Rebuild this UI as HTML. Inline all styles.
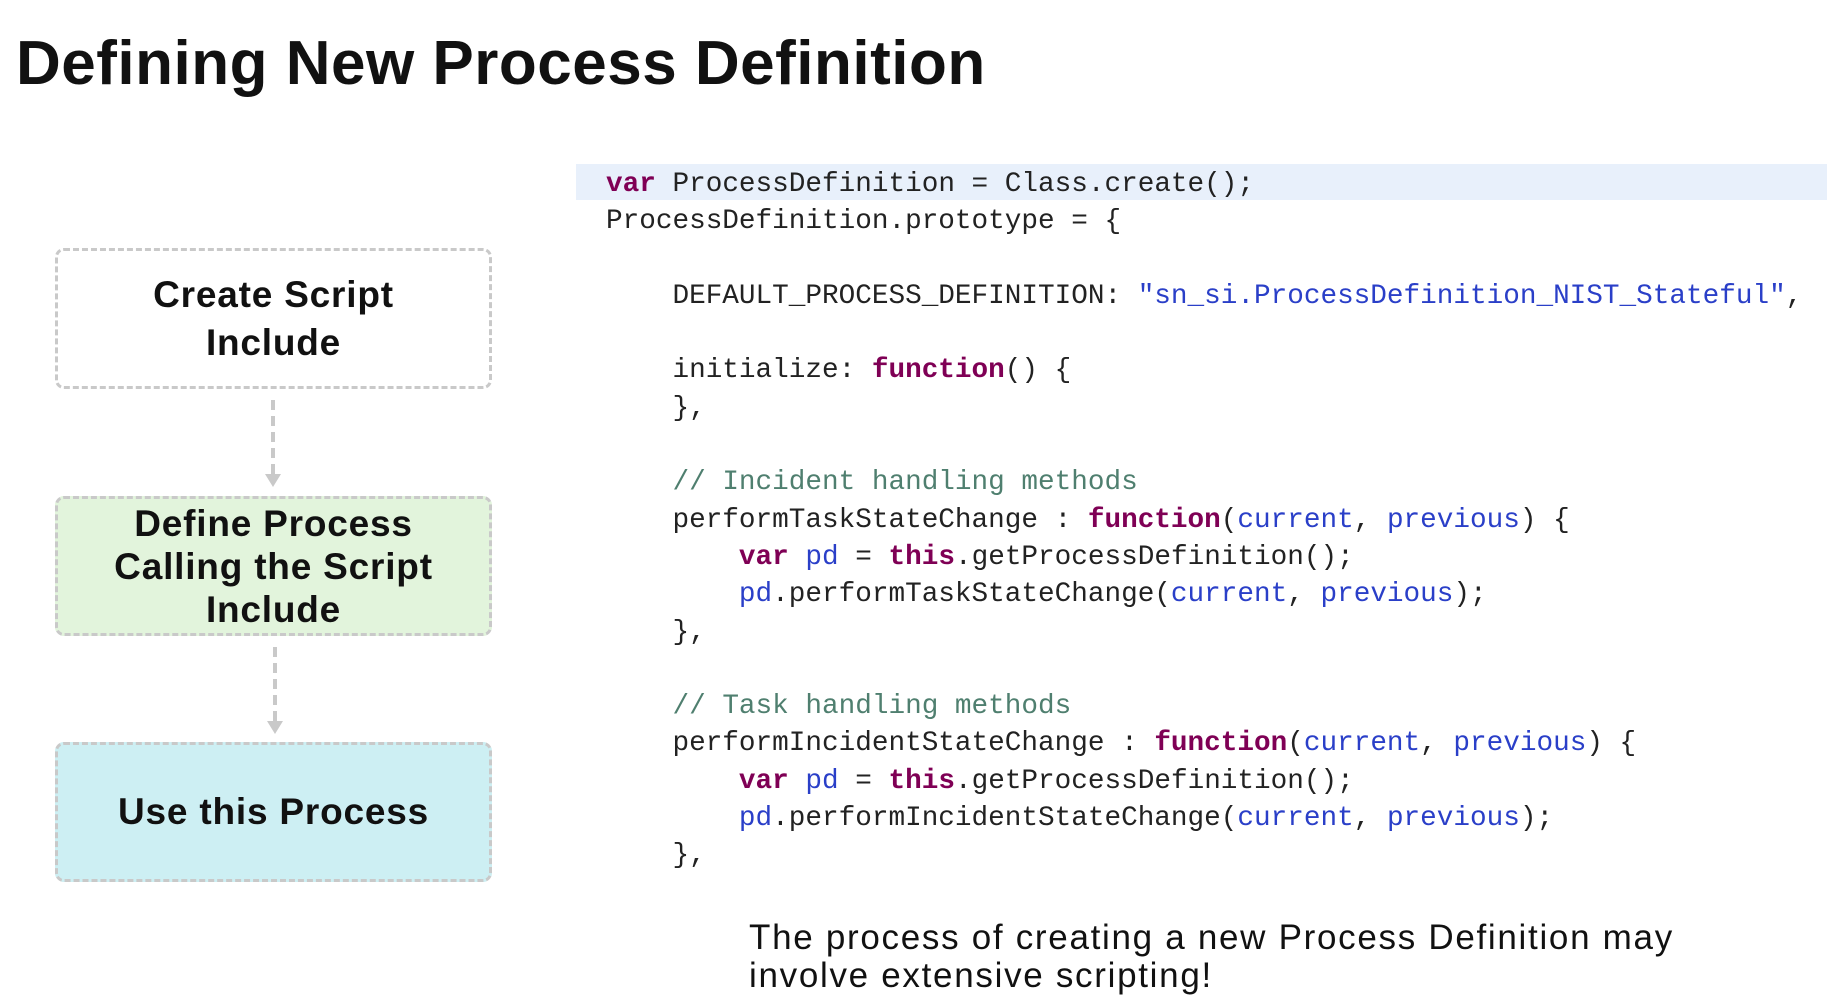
<!DOCTYPE html>
<html><head><meta charset="utf-8"><style>
body{margin:0;width:1827px;height:1008px;background:#fff;position:relative;overflow:hidden;font-family:"Liberation Sans",sans-serif}
.t{position:absolute;left:16px;top:28px;font-size:62px;font-weight:bold;color:#111;letter-spacing:0.5px}
.box{position:absolute;left:55px;width:437px;border:3.5px dashed #c9c9c9;border-radius:9px;display:flex;align-items:center;justify-content:center;text-align:center;font-weight:bold;font-size:37px;letter-spacing:0.8px;color:#111;box-sizing:border-box}
.code{position:absolute;left:0;top:166px;font-family:"Liberation Mono",monospace;font-size:27.7px;line-height:37.3px;color:#222;white-space:pre}
.k{color:#7f0055;font-weight:bold}.b{color:#2a3fc8}.c{color:#4f7f6f}
.hl{position:absolute;left:576px;top:164px;width:1251px;height:36px;background:#e8f0fb}
.bt{position:absolute;left:749px;top:919px;font-size:35px;letter-spacing:1.7px;line-height:38px;color:#111}
</style></head><body>
<div class="t">Defining New Process Definition</div>
<div class="box" style="top:248px;height:141px;line-height:48px">Create Script<br>Include</div>
<div class="box" style="top:496px;height:140px;line-height:43px;background:#e2f4dc">Define Process<br>Calling the Script<br>Include</div>
<div class="box" style="top:742px;height:140px;background:#cdeff3">Use this Process</div>
<svg style="position:absolute;left:0;top:0" width="600" height="1008">
<line x1="273" y1="400" x2="273" y2="474" stroke="#c9c9c9" stroke-width="4" stroke-dasharray="10,6"/>
<polygon points="265,474 281,474 273,487" fill="#c9c9c9"/>
<line x1="275" y1="647" x2="275" y2="721" stroke="#c9c9c9" stroke-width="4" stroke-dasharray="10,6"/>
<polygon points="267,721 283,721 275,734" fill="#c9c9c9"/>
</svg>
<div class="hl"></div>
<div class="code" style="left:606px"><span class="k">var</span> ProcessDefinition = Class.create();
ProcessDefinition.prototype = {

    DEFAULT_PROCESS_DEFINITION: <span class="b">"sn_si.ProcessDefinition_NIST_Stateful"</span>,

    initialize: <span class="k">function</span>() {
    },

    <span class="c">// Incident handling methods</span>
    performTaskStateChange : <span class="k">function</span>(<span class="b">current</span>, <span class="b">previous</span>) {
        <span class="k">var</span> <span class="b">pd</span> = <span class="k">this</span>.getProcessDefinition();
        <span class="b">pd</span>.performTaskStateChange(<span class="b">current</span>, <span class="b">previous</span>);
    },

    <span class="c">// Task handling methods</span>
    performIncidentStateChange : <span class="k">function</span>(<span class="b">current</span>, <span class="b">previous</span>) {
        <span class="k">var</span> <span class="b">pd</span> = <span class="k">this</span>.getProcessDefinition();
        <span class="b">pd</span>.performIncidentStateChange(<span class="b">current</span>, <span class="b">previous</span>);
    },</div>
<div class="bt">The process of creating a new Process Definition may<br>involve extensive scripting!</div>
</body></html>
